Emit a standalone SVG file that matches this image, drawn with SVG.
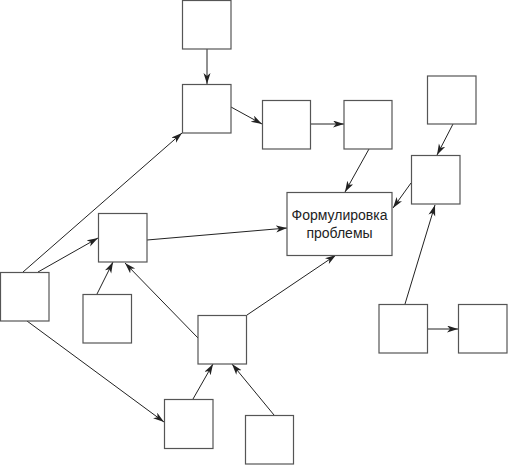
<svg xmlns="http://www.w3.org/2000/svg" width="508" height="465" viewBox="0 0 508 465">
<style>
.box{fill:#fff;stroke:#555;stroke-width:1.2}
.c{stroke:#222;stroke-width:1;fill:none;marker-end:url(#ah)}
.t{font-family:"Liberation Sans",Arial,sans-serif;font-size:14px;fill:#222;text-anchor:middle}
</style>
<defs>
<marker id="ah" markerUnits="userSpaceOnUse" markerWidth="12" markerHeight="8" refX="11" refY="3.5" orient="auto">
<path d="M0,0 L11,3.5 L0,7 L3,3.5 z" fill="#222"/>
</marker>
</defs>
<rect width="508" height="465" fill="#fff"/>
<g id="connectors">
<line class="c" x1="207" y1="49" x2="207" y2="84"/>
<line class="c" x1="231" y1="107" x2="262" y2="124"/>
<line class="c" x1="310" y1="124" x2="344" y2="124"/>
<line class="c" x1="369" y1="149" x2="345" y2="192"/>
<line class="c" x1="453" y1="124" x2="437" y2="155"/>
<line class="c" x1="411" y1="183" x2="393" y2="208"/>
<line class="c" x1="405" y1="304" x2="435" y2="205"/>
<line class="c" x1="428" y1="329" x2="458" y2="329"/>
<line class="c" x1="23" y1="272" x2="182" y2="133"/>
<line class="c" x1="38" y1="272" x2="98" y2="238"/>
<line class="c" x1="147" y1="240" x2="287" y2="228"/>
<line class="c" x1="97" y1="294" x2="113" y2="262"/>
<line class="c" x1="198" y1="338" x2="125" y2="263"/>
<line class="c" x1="247" y1="315" x2="336" y2="255"/>
<line class="c" x1="27" y1="321" x2="164" y2="422"/>
<line class="c" x1="193" y1="399" x2="213" y2="364"/>
<line class="c" x1="274" y1="415" x2="232" y2="364"/>
</g>
<g id="n1"><rect class="box" x="182.5" y="0.5" width="48.5" height="48.5"/></g>
<g id="n2"><rect class="box" x="182.5" y="84.5" width="48.5" height="48.5"/></g>
<g id="n3"><rect class="box" x="262.5" y="100.5" width="48" height="48.5"/></g>
<g id="n4"><rect class="box" x="344" y="100.5" width="48" height="48.5"/></g>
<g id="problem"><rect class="box" x="287" y="192.5" width="105" height="63"/>
<text class="t" x="339.5" y="219.5">Формулировка</text>
<text class="t" x="339.5" y="237.5">проблемы</text></g>
<g id="n5"><rect class="box" x="427.5" y="76" width="48.5" height="48"/></g>
<g id="n6"><rect class="box" x="411.5" y="155.5" width="48.5" height="48.5"/></g>
<g id="n7"><rect class="box" x="379" y="304.5" width="48.5" height="48.5"/></g>
<g id="n8"><rect class="box" x="458.5" y="304.5" width="48.5" height="48.5"/></g>
<g id="n9"><rect class="box" x="0.5" y="272.5" width="48.5" height="48.5"/></g>
<g id="n10"><rect class="box" x="98.5" y="213.5" width="48.5" height="48.5"/></g>
<g id="n11"><rect class="box" x="83" y="294.5" width="48.5" height="48.5"/></g>
<g id="n12"><rect class="box" x="198" y="315.5" width="48.5" height="48.5"/></g>
<g id="n13"><rect class="box" x="164.5" y="399.5" width="48.5" height="49"/></g>
<g id="n14"><rect class="box" x="245.5" y="415.5" width="48" height="48.5"/></g>
</svg>
